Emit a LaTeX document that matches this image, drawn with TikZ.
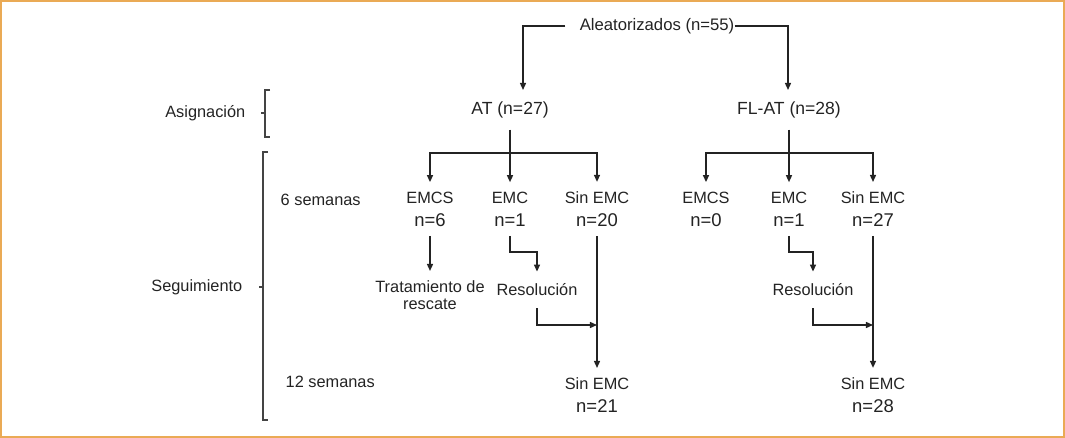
\documentclass[tikz,border=0pt]{standalone}
\usepackage{fontspec}
\setmainfont{Liberation Sans}
\usetikzlibrary{arrows.meta}
\definecolor{frameorange}{RGB}{234,170,85}
\definecolor{ink}{RGB}{35,35,35}
\newcommand{\nval}[1]{{\fontsize{10.5}{13}\selectfont n=#1}}

\begin{document}
\begin{tikzpicture}[x=0.02cm,y=-0.02cm,
  every node/.style={text=ink,font=\fontsize{9.3}{13}\selectfont,inner sep=2.5pt},
  grp/.style={align=center,outer sep=3pt},
  top/.style={font=\fontsize{10}{12}\selectfont,outer sep=4pt},
  arr/.style={draw=ink,line width=0.85pt,-{Triangle[length=4pt,width=3.4pt]}},
  ln/.style={draw=ink,line width=0.85pt},
  brk/.style={draw=ink!85,line width=1pt}]
\useasboundingbox (0,0) rectangle (1065,438);
\draw[frameorange,line width=1.2pt] (1,1) rectangle (1064,437);

\node[font=\fontsize{9.5}{12}\selectfont,inner sep=0pt] (rand) at (657,26) {Aleatorizados (n=55)};
\node[top] (at) at (510,110) {AT (n=27)};
\node[top] (flat) at (789,110) {FL-AT (n=28)};
\coordinate (atin) at (523,90);
\coordinate (flin) at (788,90);
\draw[arr] ([xshift=-8pt]rand.west) -| (atin);
\draw[arr] (rand.east) -| (flin);

\node[anchor=east] (asig) at (250,113) {Asignación};
\draw[brk] (270,90) -- (265,90) -- (265,137) -- (270,137);
\draw[brk] (261,113) -- (265,113);
\node[anchor=east] (seg) at (247,287) {Seguimiento};
\draw[brk] (268,152) -- (263,152) -- (263,420) -- (268,420);
\draw[brk] (259,287) -- (263,287);
\node[anchor=west] (sem6) at (276,200) {6 semanas};
\node[anchor=west] (sem12) at (281,382) {12 semanas};

\node[grp] (emcsA) at (430,209) {EMCS\\\nval{6}};
\node[grp] (emcA) at (510,209) {EMC\\\nval{1}};
\node[grp] (sinA) at (597,209) {Sin EMC\\\nval{20}};
\node[grp,font=\fontsize{9.3}{9.5}\selectfont] (tratA) at (430,295) {Tratamiento de\\rescate};
\node[outer sep=4.5pt] (resA) at (537,290) {Resolución};
\node[grp] (finA) at (597,395) {Sin EMC\\\nval{21}};
\coordinate (jA) at (510,153);
\coordinate (mA) at (597,325);
\draw[ln] (at.south) -- (jA);
\draw[arr] (jA) -| (emcsA.north);
\draw[arr] (jA) -- (emcA.north);
\draw[arr] (jA) -| (sinA.north);
\draw[arr] (emcsA.south) -- (tratA.north);
\draw[arr] (emcA.south) -- ++(0,16) -| (resA.north);
\draw[arr] (resA.south) |- (mA);
\draw[arr] (sinA.south) -- (finA.north);

\node[grp] (emcsB) at (706,209) {EMCS\\\nval{0}};
\node[grp] (emcB) at (789,209) {EMC\\\nval{1}};
\node[grp] (sinB) at (873,209) {Sin EMC\\\nval{27}};
\node[outer sep=4.5pt] (resB) at (813,290) {Resolución};
\node[grp] (finB) at (873,395) {Sin EMC\\\nval{28}};
\coordinate (jB) at (789,153);
\coordinate (mB) at (873,325);
\draw[ln] (flat.south) -- (jB);
\draw[arr] (jB) -| (emcsB.north);
\draw[arr] (jB) -- (emcB.north);
\draw[arr] (jB) -| (sinB.north);
\draw[arr] (emcB.south) -- ++(0,16) -| (resB.north);
\draw[arr] (resB.south) |- (mB);
\draw[arr] (sinB.south) -- (finB.north);
\end{tikzpicture}
\end{document}
